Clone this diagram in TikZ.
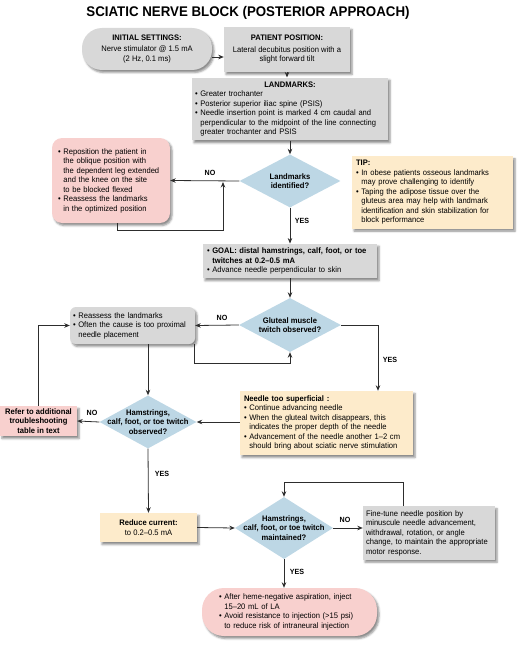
\documentclass[tikz,border=0pt]{standalone}
\usepackage{fontspec}
\setmainfont{Liberation Sans}[FakeStretch=0.95]
\usetikzlibrary{shapes.geometric,arrows.meta,shadows.blur}

\definecolor{boxgray}{RGB}{216,216,216}
\definecolor{qblue}{RGB}{189,215,229}
\definecolor{boxpink}{RGB}{248,208,206}
\definecolor{boxcream}{RGB}{253,235,203}
\definecolor{linedark}{RGB}{45,45,45}

\hyphenpenalty=10000
\exhyphenpenalty=10000

\newcommand{\bl}{\textbullet\ }
\newcommand{\hg}{\hphantom{\textbullet\ }}

\tikzset{
  card/.style={font=\fontsize{8}{9.5}\selectfont, inner sep=4pt, align=left,
    blur shadow={shadow xshift=2pt, shadow yshift=-2.5pt,
                 shadow blur radius=2pt, shadow opacity=45}},
  graycard/.style={card, fill=boxgray},
  pinkcard/.style={card, fill=boxpink},
  creamcard/.style={card, fill=boxcream},
  question/.style={diamond, fill=qblue, inner sep=0pt},
  qtext/.style={font=\fontsize{8}{9.5}\selectfont\bfseries, align=center},
  answer/.style={font=\fontsize{7.5}{9}\selectfont\bfseries},
  arr/.style={draw=linedark, line width=0.8pt, -{Stealth[length=5.5pt,width=4.5pt]}},
}

\begin{document}
\begin{tikzpicture}[x=1pt, y=-1pt]

  \useasboundingbox (0,0) rectangle (526,650);

  \node (title) at (248,13)
    {\fontsize{14}{16}\selectfont\bfseries SCIATIC NERVE BLOCK (POSTERIOR APPROACH)};

  % top row
  \node[graycard, align=center, rounded corners=20pt, minimum width=130pt,
        minimum height=42pt] (init) at (147,49)
    {\textbf{INITIAL SETTINGS:}\\[2pt]Nerve stimulator @ 1.5 mA\\(2 Hz, 0.1 ms)};
  \node[graycard, align=center, minimum width=126pt, minimum height=45pt]
    (patient) at (287,49.5)
    {\textbf{PATIENT POSITION:}\\[2pt]Lateral decubitus position with a\\slight forward tilt};

  \node[graycard, inner xsep=3pt, text width=190pt, minimum height=58pt]
    (landmarks) at (290,109)
    {\makebox[190pt]{\textbf{LANDMARKS:}}\\
     \bl Greater trochanter\\
     \bl Posterior superior iliac spine (PSIS)\\
     \bl Needle insertion point is marked 4 cm caudal and\\
     \hg perpendicular to the midpoint of the line connecting\\
     \hg greater trochanter and PSIS};

  % landmarks check
  \node[question, minimum width=101pt, minimum height=53pt,
        label={[qtext]center:{Landmarks\\identified?}}] (dland) at (290,181) {};
  \node[pinkcard, rounded corners=10pt, inner sep=6pt, text width=106pt,
        minimum height=85pt] (repos) at (111,180.5)
    {\bl Reposition the patient in\\
     \hg the oblique position with\\
     \hg the dependent leg extended\\
     \hg and the knee on the site\\
     \hg to be blocked flexed\\
     \bl Reassess the landmarks\\
     \hg in the optimized position};
  \node[creamcard, text width=153pt, minimum height=69pt] (tip) at (432.5,192.5)
    {\textbf{TIP:}\\
     \bl In obese patients osseous landmarks\\
     \hg may prove challenging to identify\\
     \bl Taping the adipose tissue over the\\
     \hg gluteus area may help with landmark\\
     \hg identification and skin stabilization for\\
     \hg block performance};

  \node[graycard, inner xsep=4pt, text width=166pt, minimum height=34pt]
    (goal) at (290,261)
    {\bl\textbf{GOAL: distal hamstrings, calf, foot, or toe}\\
     \hg\textbf{twitches at 0.2–0.5 mA}\\
     \bl Advance needle perpendicular to skin};

  % gluteal twitch
  \node[question, minimum width=102pt, minimum height=54pt,
        label={[qtext]center:{Gluteal muscle\\twitch observed?}}] (dglut) at (290,325) {};
  \node[graycard, rounded corners=6pt, inner xsep=3pt, text width=119pt,
        minimum height=37pt] (reass) at (132.5,325.5)
    {\bl Reassess the landmarks\\
     \bl Often the cause is too proximal\\
     \hg needle placement};

  % distal twitch
  \node[question, minimum width=97pt, minimum height=53pt,
        label={[qtext]center:{Hamstrings,\\calf, foot, or toe twitch\\observed?}}]
    (dham1) at (148,422) {};
  \node[pinkcard, align=center, font=\fontsize{8}{9.5}\selectfont\bfseries,
        inner sep=2pt, minimum width=77pt, minimum height=30pt] (refer) at (38.5,421)
    {Refer to additional\\troubleshooting\\table in text};
  \node[creamcard, text width=165pt, minimum height=64pt] (superf) at (326.5,423)
    {\textbf{Needle too superficial :}\\
     \bl Continue advancing needle\\
     \bl When the gluteal twitch disappears, this\\
     \hg indicates the proper depth of the needle\\
     \bl Advancement of the needle another 1–2 cm\\
     \hg should bring about sciatic nerve stimulation};

  % reduce current
  \node[creamcard, align=center, minimum width=97pt, minimum height=29pt]
    (reduce) at (148.5,527.5) {\textbf{Reduce current:}\\to 0.2–0.5 mA};
  \node[question, minimum width=98pt, minimum height=62pt,
        label={[qtext]center:{Hamstrings,\\calf, foot, or toe twitch\\maintained?}}]
    (dham2) at (284,528) {};
  \node[graycard, inner xsep=3pt, text width=126pt, minimum height=50pt]
    (fine) at (429,533)
    {Fine-tune needle position by\\
     minuscule needle advancement,\\
     withdrawal, rotation, or angle\\
     change, to maintain the appropriate\\
     motor response.};

  \node[pinkcard, rounded corners=22pt, inner xsep=17pt, text width=141pt,
        minimum height=48pt] (final) at (289.5,612)
    {\bl After heme-negative aspiration, inject\\
     \hg 15–20 mL of LA\\
     \bl Avoid resistance to injection (>15 psi)\\
     \hg to reduce risk of intraneural injection};

  \coordinate (jland) at (223,182);

  \draw[arr] (init.east |- 0,57)           -- (patient.west |- 0,57)      ;
  \draw[arr] (patient.south)               -- (patient.south |- landmarks.north) ;
  \draw[arr] (landmarks.south)             -- (dland.north)               ;
  \draw[arr] (dland.west)                  -- (repos.east)                ;
  \draw[arr] ([xshift=6pt]repos.south)     |- (jland |- 0,230) -- (jland) ;
  \draw[arr] (dland.south)                 -- (goal.north)                ;
  \draw[arr] (goal.south)                  -- (dglut.north)               ;
  \draw[arr] (dglut.west)                  -- (reass.east)                ;
  \draw[arr] ([xshift=-1pt]reass.south east) |- ([yshift=-11pt]dglut.south)
                                           -- (dglut.south)               ;
  \draw[arr] (dglut.east)                  -| ([xshift=51.5pt]superf.north) ;
  \draw[arr] (dham1.north |- reass.south)  -- (dham1.north)               ;
  \draw[arr] (refer.north)                 |- (reass.west)                ;
  \draw[arr] (dham1.west)                  -- (refer.east)                ;
  \draw[arr] (superf.west |- dham1.east)   -- (dham1.east)                ;
  \draw[arr] (dham1.south)                 -- (reduce.north)              ;
  \draw[arr] (reduce.east)                 -- (dham2.west)                ;
  \draw[arr] (dham2.east)                  -- (dham2.east -| fine.west)   ;
  \draw[arr] ([xshift=-26pt]fine.north)    |- ([yshift=14pt]dham2.north)
                                           -- (dham2.north)               ;
  \draw[arr] (dham2.south)                 -- (dham2.south |- final.north) ;

  \node[answer] (no1)  at (210,173) {NO}  ;
  \node[answer] (yes1) at (302,221) {YES} ;
  \node[answer] (no2)  at (222,318) {NO}  ;
  \node[answer] (yes2) at (390,360) {YES} ;
  \node[answer] (no3)  at (92,413)  {NO}  ;
  \node[answer] (yes3) at (162,474) {YES} ;
  \node[answer] (no4)  at (345,520) {NO}  ;
  \node[answer] (yes4) at (297,572) {YES} ;

\end{tikzpicture}
\end{document}
